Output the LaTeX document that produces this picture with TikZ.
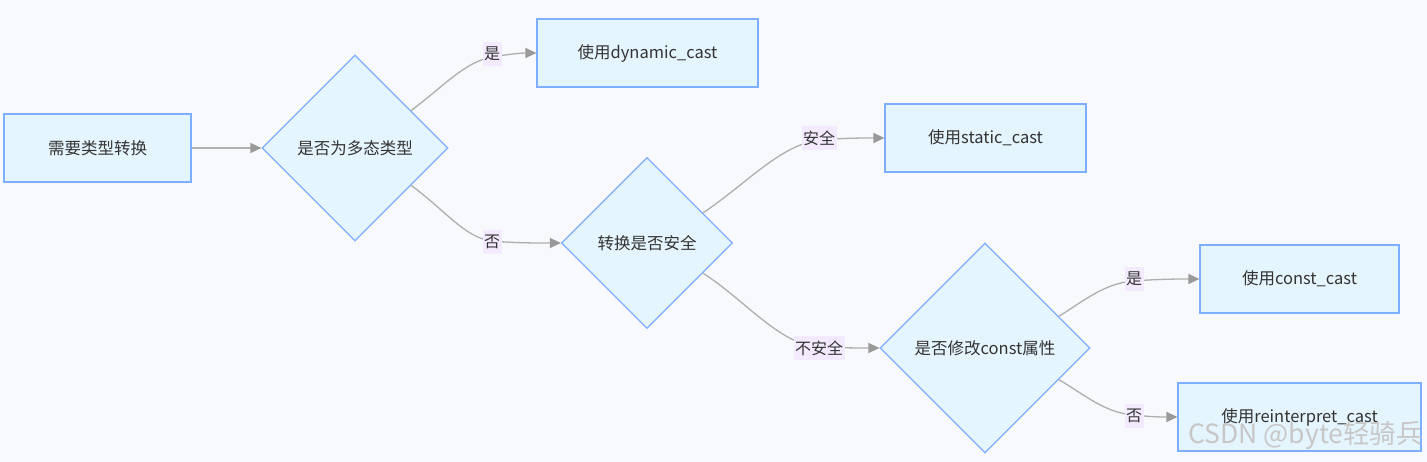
\documentclass[tikz,border=0pt]{standalone}
\usepackage{fontspec}
\setmainfont{Noto Sans CJK SC}
\usetikzlibrary{shapes.geometric,arrows.meta,calc}
\definecolor{bgc}{HTML}{F8F9FC}
\definecolor{nfill}{HTML}{E5F5FE}
\definecolor{nborder}{HTML}{7EAEFF}
\definecolor{eline}{HTML}{AFAFAF}
\definecolor{earrow}{HTML}{999999}
\definecolor{lblbg}{HTML}{F3EAFD}
\definecolor{txt}{HTML}{333333}
\tikzset{
  rectnode/.style={draw=nborder,fill=nfill,line width=1.2pt,minimum height=68pt,inner sep=0pt,text=txt,font=\fontsize{16.5}{19}\selectfont},
  dia/.style={diamond,aspect=1,draw=nborder,fill=nfill,line width=1.2pt,inner sep=0pt,text=txt,font=\fontsize{16.5}{19}\selectfont},
  edge/.style={draw=eline,line width=1.3pt,-{Triangle[length=11pt,width=10pt,fill=earrow,color=earrow]}},
  lbl/.style={fill=lblbg,inner xsep=1.5pt,inner ysep=5pt,text=txt,font=\fontsize{16}{19}\selectfont},
}
\begin{document}
\begin{tikzpicture}[x=1pt,y=-1pt]
\fill[bgc] (0,0) rectangle (1427,462);
\useasboundingbox (0,0) rectangle (1427,462);
% nodes
\node[rectnode,minimum width=187pt] (A) at (97.5,148) {需要类型转换};
\node[dia,minimum width=186pt,minimum height=186pt] (B) at (355,148) {是否为多态类型};
\node[rectnode,minimum width=221pt] (C) at (647.5,53) {使用dynamic\_cast};
\node[dia,minimum width=171pt,minimum height=171pt] (D) at (647,243) {转换是否安全};
\node[rectnode,minimum width=201pt] (E) at (985.5,138) {使用static\_cast};
\node[dia,minimum width=210pt,minimum height=210pt] (F) at (985,348) {是否修改const属性};
\node[rectnode,minimum width=199pt] (G) at (1299.5,279) {使用const\_cast};
\node[rectnode,minimum width=243pt] (H) at (1299.5,417) {使用reinterpret\_cast};
% label coordinates
\coordinate (l1) at (492,57);
\coordinate (l2) at (492,241);
\coordinate (l3) at (819,140);
\coordinate (l4) at (819,347);
\coordinate (l5) at (1134,281);
\coordinate (l6) at (1134,415);
% edges
\draw[edge] (A.east) -- (B.west);
\draw[edge] ($(B.north)!0.6!(B.east)$) .. controls (445,85) and (465,62) .. (l1) .. controls (510,54) and (522,53) .. (C.west);
\draw[edge] ($(B.south)!0.6!(B.east)$) .. controls (445,210) and (465,238) .. (l2) .. controls (515,243) and (532,243) .. (D.west);
\draw[edge] ($(D.north)!0.65!(D.east)$) .. controls (745,185) and (780,145) .. (l3) .. controls (845,138) and (862,138) .. (E.west);
\draw[edge] ($(D.south)!0.65!(D.east)$) .. controls (745,300) and (780,345) .. (l4) .. controls (845,348) and (860,348) .. (F.west);
\draw[edge] ($(F.north)!0.7!(F.east)$) .. controls (1085,300) and (1105,283) .. (l5) .. controls (1160,279) and (1178,279) .. (G.west);
\draw[edge] ($(F.south)!0.7!(F.east)$) .. controls (1085,395) and (1105,413) .. (l6) .. controls (1152,417) and (1162,417) .. (H.west);
% labels
\node[lbl] (L1) at (492,54) {是};
\node[lbl] (L2) at (492,242) {否};
\node[lbl] (L3) at (819,138) {安全};
\node[lbl] (L4) at (819,348) {不安全};
\node[lbl] (L5) at (1134,279) {是};
\node[lbl] (L6) at (1134,416) {否};
% watermark
\node[anchor=east,text=black!22,font=\fontsize{26.5}{30}\selectfont,inner sep=0pt] (W) at (1423,435) {CSDN @byte轻骑兵};
\end{tikzpicture}
\end{document}
